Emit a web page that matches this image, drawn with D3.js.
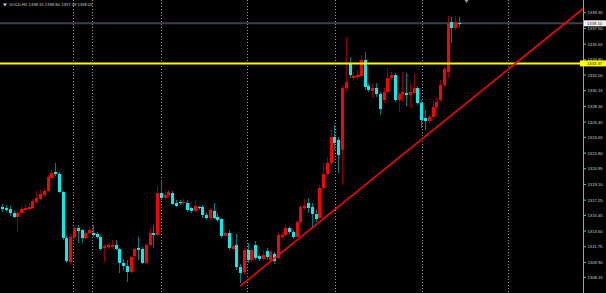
<!DOCTYPE html>
<html>
<head>
<meta charset="utf-8">
<title>GOLD,H1</title>
<script src="https://d3js.org/d3.v7.min.js"></script>
<style>
  body { margin: 0; background: #000; }
  svg { display: block; background: #000; }
  .lbl { font-family: "Liberation Sans", Arial, sans-serif; font-size: 4.2px; fill: #d0d0d0; }
</style>
</head>
<body>
<script>
// hourly bars
var opens = [1316.44,1316.32,1316.20,1315.73,1315.26,1315.73,1316.09,1316.20,1316.32,1317.03,
  1317.38,1317.85,1318.33,1319.86,1320.57,1320.33,1318.21,1312.78,1309.95,1312.90,
  1313.96,1313.73,1312.78,1313.37,1313.37,1313.26,1312.90,1311.60,1311.72,1311.72,
  1311.96,1311.49,1309.84,1309.48,1308.77,1310.66,1311.60,1311.49,1309.84,1311.96,
  1313.37,1313.14,1318.09,1317.50,1317.85,1318.09,1316.91,1317.03,1316.91,1316.91,
  1316.32,1315.97,1316.44,1316.44,1315.50,1315.14,1315.97,1315.26,1315.02,1313.02,
  1313.37,1311.49,1311.96,1309.36,1308.77,1311.37,1310.19,1311.96,1310.66,1310.31,
  1311.25,1310.19,1310.90,1310.43,1312.90,1313.14,1313.96,1313.49,1312.90,1314.67,
  1316.32,1316.91,1316.44,1315.61,1315.14,1318.68,1320.33,1321.63,1324.69,1324.34,
  1323.16,1330.47,1333.42,1331.65,1331.77,1331.89,1333.77,1330.71,1330.12,1330.47,
  1329.76,1329.06,1330.00,1331.65,1332.00,1329.06,1329.76,1329.88,1329.65,1329.88,
  1330.47,1328.70,1326.93,1326.58,1327.05,1328.23,1329.06,1330.83,1332.36,1338.25,
  1337.55,1338.14];
var highs = [1316.79,1316.67,1316.56,1315.97,1315.97,1316.67,1316.79,1316.91,1317.38,1318.33,
  1318.44,1318.68,1320.21,1320.80,1321.63,1320.57,1318.33,1313.02,1313.26,1314.08,
  1314.32,1313.84,1313.49,1314.08,1314.32,1313.49,1313.02,1312.08,1312.19,1312.55,
  1312.55,1311.60,1310.31,1310.19,1310.66,1311.60,1312.90,1311.72,1312.08,1313.96,
  1314.32,1318.92,1319.62,1318.33,1318.44,1318.33,1317.26,1317.26,1317.38,1317.26,
  1316.44,1317.26,1316.56,1316.67,1315.73,1316.32,1316.91,1315.73,1315.14,1313.49,
  1313.73,1311.96,1313.26,1309.72,1311.60,1312.19,1311.60,1312.43,1310.90,1311.37,
  1311.60,1311.37,1311.13,1313.37,1313.49,1314.32,1314.20,1313.73,1314.91,1316.67,
  1317.38,1317.50,1316.91,1316.09,1319.03,1321.63,1322.33,1325.52,1326.11,1324.69,
  1330.83,1336.48,1334.13,1332.36,1332.59,1334.36,1334.72,1330.94,1330.94,1331.06,
  1330.00,1330.47,1332.83,1332.36,1332.24,1330.00,1332.36,1332.24,1331.06,1332.12,
  1330.71,1329.06,1327.88,1327.29,1329.06,1329.41,1331.41,1332.95,1338.96,1338.84,
  1338.96,1338.84];
var lows = [1315.85,1315.85,1315.38,1315.14,1313.49,1315.50,1315.85,1315.97,1316.20,1316.79,
  1317.26,1317.62,1318.21,1319.62,1320.09,1318.09,1312.55,1309.84,1309.60,1312.55,
  1312.19,1312.19,1312.55,1313.26,1312.90,1312.67,1311.37,1309.95,1311.49,1311.60,
  1311.37,1308.66,1309.01,1307.60,1308.54,1310.43,1310.19,1309.72,1309.72,1311.84,
  1311.60,1313.02,1317.26,1317.26,1317.62,1316.67,1316.44,1316.67,1316.67,1315.85,
  1315.73,1315.85,1316.09,1315.14,1314.91,1314.91,1315.02,1314.67,1312.78,1312.78,
  1311.37,1311.25,1309.01,1307.48,1308.42,1309.84,1309.95,1310.19,1310.07,1310.07,
  1310.19,1309.95,1309.72,1310.31,1312.67,1313.02,1313.26,1312.67,1312.78,1314.55,
  1316.09,1315.73,1313.96,1314.67,1315.02,1318.44,1320.09,1321.39,1323.16,1320.45,
  1319.03,1330.00,1331.65,1331.41,1331.53,1331.65,1330.24,1330.00,1329.29,1329.41,
  1327.29,1328.70,1329.76,1331.41,1328.82,1327.64,1328.82,1328.35,1328.11,1329.65,
  1328.47,1325.75,1325.52,1326.23,1326.70,1327.88,1328.82,1330.59,1331.65,1335.78,
  1337.31,1337.66];
var closes = [1316.20,1316.09,1315.73,1315.26,1315.73,1316.20,1316.32,1316.44,1317.15,1317.50,
  1317.97,1318.33,1319.98,1320.45,1320.33,1318.21,1312.78,1310.07,1312.90,1313.96,
  1313.61,1312.78,1313.37,1313.73,1313.14,1312.90,1311.49,1311.84,1311.96,1311.96,
  1311.49,1309.84,1309.48,1308.77,1310.54,1311.49,1311.37,1309.84,1311.96,1313.37,
  1313.14,1318.09,1317.50,1317.85,1318.21,1316.79,1316.56,1316.91,1317.03,1316.09,
  1315.97,1316.56,1316.32,1315.50,1315.14,1316.09,1315.14,1314.91,1313.02,1313.37,
  1311.60,1311.84,1309.36,1308.66,1311.37,1310.19,1311.37,1310.43,1310.31,1310.78,
  1310.54,1311.13,1310.07,1313.14,1313.14,1313.96,1313.49,1312.90,1314.67,1316.44,
  1316.56,1316.32,1315.61,1315.02,1318.68,1320.33,1321.63,1324.69,1323.99,1322.57,
  1330.47,1331.18,1332.00,1331.89,1332.00,1333.77,1330.59,1330.24,1330.47,1329.76,
  1327.99,1330.00,1331.65,1332.00,1329.06,1329.76,1330.00,1329.65,1330.00,1330.47,
  1328.70,1326.70,1326.58,1327.05,1328.23,1328.82,1330.83,1332.71,1338.14,1337.55,
  1338.25,1338.02];

var priceTicks = [1339.35,1337.50,1335.65,1333.80,1332.00,1330.15,1328.30,1326.45,1324.65,
  1322.80,1320.95,1319.10,1317.25,1315.45,1313.60,1311.75,1309.90,1308.15];
var gridBars = [18.8, 23.8, 42, 64.9, 88.1, 111.1, 134];
var levelPrice = 1333.37;
var bidPrice = 1338.10;
var trendFrom = [63, 1307.12];
var trendTo = [136.3, 1333.50];
var titleText = "GOLD,H1  1338.15 1338.80 1337.49 1338.02";

var W = 606, H = 293, plotRight = 583;

var svg = d3.select("body").append("svg")
  .attr("width", W)
  .attr("height", H);

var x = d3.scaleLinear().domain([0, 121]).range([2.3, 459]);
var y = d3.scaleLinear().domain([1308.15, 1339.35]).range([277.3, 12.7]);

svg.append("clipPath").attr("id", "plot")
  .append("rect").attr("x", 0).attr("y", 0).attr("width", plotRight).attr("height", H);

var plot = svg.append("g").attr("clip-path", "url(#plot)");

// dotted vertical grid
plot.selectAll(".grid").data(gridBars).enter().append("line")
  .attr("class", "grid")
  .attr("x1", d => Math.round(x(d)) + 0.5)
  .attr("x2", d => Math.round(x(d)) + 0.5)
  .attr("y1", 0).attr("y2", H)
  .attr("stroke", "#9a9a9a")
  .attr("stroke-dasharray", "1,2");

// bid line
plot.append("line")
  .attr("x1", 0).attr("x2", plotRight)
  .attr("y1", y(bidPrice)).attr("y2", y(bidPrice))
  .attr("stroke", "#3a4148").attr("stroke-width", 2);

var bars = d3.range(opens.length);
var up = i => closes[i] >= opens[i];

plot.selectAll(".wick").data(bars).enter().append("line")
  .attr("class", "wick")
  .attr("x1", i => Math.round(x(i)) + 0.5)
  .attr("x2", i => Math.round(x(i)) + 0.5)
  .attr("y1", i => y(highs[i]))
  .attr("y2", i => y(lows[i]))
  .attr("stroke", i => up(i) ? "#8c0000" : "#007c7c");

plot.selectAll(".body").data(bars).enter().append("rect")
  .attr("class", "body")
  .attr("x", i => Math.round(x(i)) - 1)
  .attr("width", 3)
  .attr("y", i => y(Math.max(opens[i], closes[i])))
  .attr("height", i => Math.max(1, Math.abs(y(opens[i]) - y(closes[i]))))
  .attr("fill", i => up(i) ? "#ff0000" : "#00f0f0");

// horizontal level
plot.append("line")
  .attr("x1", 0).attr("x2", plotRight)
  .attr("y1", y(levelPrice)).attr("y2", y(levelPrice))
  .attr("stroke", "#ffff00").attr("stroke-width", 2);

// trend line, extended to the right edge
var slope = (trendTo[1] - trendFrom[1]) / (trendTo[0] - trendFrom[0]);
var endBar = x.invert(plotRight);
plot.append("line")
  .attr("x1", x(trendFrom[0])).attr("y1", y(trendFrom[1]))
  .attr("x2", x(endBar)).attr("y2", y(trendFrom[1] + slope * (endBar - trendFrom[0])))
  .attr("stroke", "#ff0000").attr("stroke-width", 1.6);

// price axis
svg.append("line")
  .attr("x1", plotRight + 0.5).attr("x2", plotRight + 0.5)
  .attr("y1", 0).attr("y2", H)
  .attr("stroke", "#a0a0a0");

var ticks = svg.selectAll(".tick").data(priceTicks).enter().append("g")
  .attr("transform", d => "translate(" + (plotRight + 0.5) + "," + y(d) + ")");
ticks.append("line").attr("x1", 0).attr("x2", 2.5).attr("stroke", "#a0a0a0");
ticks.append("text").attr("class", "lbl")
  .attr("x", 4).attr("dy", "0.35em")
  .text(d => d.toFixed(2));

// bid label
svg.append("rect")
  .attr("x", plotRight + 1).attr("y", y(bidPrice) - 3)
  .attr("width", W - plotRight).attr("height", 6)
  .attr("fill", "#f0f0f0");
svg.append("text").attr("class", "lbl")
  .attr("x", plotRight + 4).attr("y", y(bidPrice)).attr("dy", "0.35em")
  .style("fill", "#202020")
  .text(bidPrice.toFixed(2));

// level label
svg.append("rect")
  .attr("x", plotRight - 3).attr("y", y(levelPrice) - 3)
  .attr("width", W - plotRight + 3).attr("height", 6)
  .attr("fill", "#ffff00");
svg.append("text").attr("class", "lbl")
  .attr("x", plotRight + 4).attr("y", y(levelPrice)).attr("dy", "0.35em")
  .style("fill", "#000")
  .text(levelPrice.toFixed(2));

// title
svg.append("path")
  .attr("d", "M3,3.5 L7,3.5 L5,6.5 Z")
  .attr("fill", "#d0d0d0");
svg.append("text").attr("class", "lbl")
  .attr("x", 9).attr("y", 5).attr("dy", "0.35em")
  .text(titleText);

// chart shift marker
var sx = x(123);
svg.append("path")
  .attr("d", "M" + (sx - 2) + ",0 L" + (sx + 2) + ",0 L" + sx + ",3 Z")
  .attr("fill", "#8a9aa8");
</script>
</body>
</html>
